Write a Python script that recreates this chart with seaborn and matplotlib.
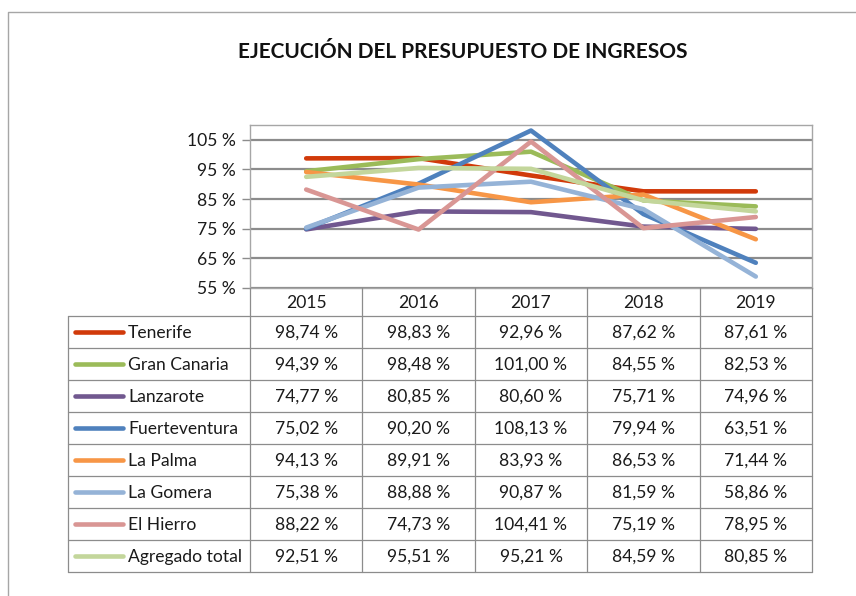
import numpy as np
import pandas as pd
import matplotlib.pyplot as plt
import seaborn as sns
from matplotlib.lines import Line2D

years = ['2015', '2016', '2017', '2018', '2019']
islands = ['Tenerife', 'Gran Canaria', 'Lanzarote', 'Fuerteventura',
           'La Palma', 'La Gomera', 'El Hierro', 'Agregado total']
tenerife = [98.74, 98.83, 92.96, 87.62, 87.61]
gran_canaria = [94.39, 98.48, 101.00, 84.55, 82.53]
lanzarote = [74.77, 80.85, 80.60, 75.71, 74.96]
fuerteventura = [75.02, 90.20, 108.13, 79.94, 63.51]
la_palma = [94.13, 89.91, 83.93, 86.53, 71.44]
la_gomera = [75.38, 88.88, 90.87, 81.59, 58.86]
el_hierro = [88.22, 74.73, 104.41, 75.19, 78.95]
agregado = [92.51, 95.51, 95.21, 84.59, 80.85]
colors = ['#D13A0A', '#9BBB59', '#71588F', '#4F81BD',
          '#F79646', '#95B3D7', '#D99694', '#C3D69B']
yticks = [55, 65, 75, 85, 95, 105]

series = [tenerife, gran_canaria, lanzarote, fuerteventura,
          la_palma, la_gomera, el_hierro, agregado]

# long form table for seaborn
rows = []
for name, vals in zip(islands, series):
    for i, v in enumerate(vals):
        rows.append({'isla': name, 'pos': i, 'valor': v})
df = pd.DataFrame(rows)

sns.set_style('white')
plt.rcParams['font.family'] = ['Lato', 'DejaVu Sans']
fs = 12.6

W, H = 856, 596
fig = plt.figure(figsize=(W / 100, H / 100), dpi=100)


def fx(px):
    return px / W


def fy(py):
    return 1 - py / H


x0, x1 = 250, 812
ytop, ybot = 125, 288
ax = fig.add_axes([fx(x0), fy(ybot), fx(x1) - fx(x0), fy(ytop) - fy(ybot)])

sns.lineplot(data=df, x='pos', y='valor', hue='isla', hue_order=islands,
             palette=colors, linewidth=3.3, legend=False, ax=ax,
             solid_capstyle='round')

ax.set_xlim(-0.5, 4.5)
ax.set_ylim(55, 110)
ax.set_yticks(yticks)
ax.set_yticklabels([f'{t} %' for t in yticks], fontsize=fs, color='#1a1a1a')
ax.set_xticks([])
ax.set_xlabel('')
ax.set_ylabel('')
ax.tick_params(axis='y', length=6, width=1, color='#8c8c8c', pad=4, left=True)
for t in yticks:
    ax.axhline(t, color='#8c8c8c', lw=1.6, zorder=0)
for s in ax.spines.values():
    s.set_color('#a6a6a6')
    s.set_linewidth(1)

# title
fig.text(fx(463), fy(52), 'EJECUCIÓN DEL PRESUPUESTO DE INGRESOS',
         ha='center', va='center', fontsize=15, fontweight='bold', color='#111111')

# outer chart frame
frame_c = '#a6a6a6'
fig.add_artist(Line2D([fx(8), fx(8), fx(856)], [fy(596), fy(12), fy(12)],
                      color=frame_c, lw=1))

# data table below the chart
grid_c = '#8c8c8c'
col_edges = [x0 + i * (x1 - x0) / 5 for i in range(6)]
tbl_left = 68
row_top = 316
row_h = 32
n_rows = len(islands)
tbl_bot = row_top + n_rows * row_h

for i, xe in enumerate(col_edges):
    fig.add_artist(Line2D([fx(xe), fx(xe)], [fy(ybot), fy(tbl_bot)],
                          color=grid_c, lw=0.9))
fig.add_artist(Line2D([fx(tbl_left), fx(tbl_left)], [fy(row_top), fy(tbl_bot)],
                      color=grid_c, lw=0.9))
for r in range(n_rows + 1):
    yy = row_top + r * row_h
    fig.add_artist(Line2D([fx(tbl_left), fx(x1)], [fy(yy), fy(yy)],
                          color=grid_c, lw=0.9))

# header with the years
for i, yr in enumerate(years):
    cx = (col_edges[i] + col_edges[i + 1]) / 2
    fig.text(fx(cx), fy((ybot + row_top) / 2 + 1), yr,
             ha='center', va='center', fontsize=fs, color='#1a1a1a')

# rows
for r, (name, vals) in enumerate(zip(islands, series)):
    cy = row_top + r * row_h + row_h / 2
    fig.add_artist(Line2D([fx(75), fx(123)], [fy(cy), fy(cy)],
                          color=colors[r], lw=3.3, solid_capstyle='round'))
    fig.text(fx(128), fy(cy + 1), name, ha='left', va='center',
             fontsize=fs, color='#1a1a1a')
    for i, v in enumerate(vals):
        cx = (col_edges[i] + col_edges[i + 1]) / 2
        txt = f'{v:.2f}'.replace('.', ',') + ' %'
        fig.text(fx(cx), fy(cy + 1), txt, ha='center', va='center',
                 fontsize=fs, color='#1a1a1a')

fig.savefig('out.png', dpi=100)
